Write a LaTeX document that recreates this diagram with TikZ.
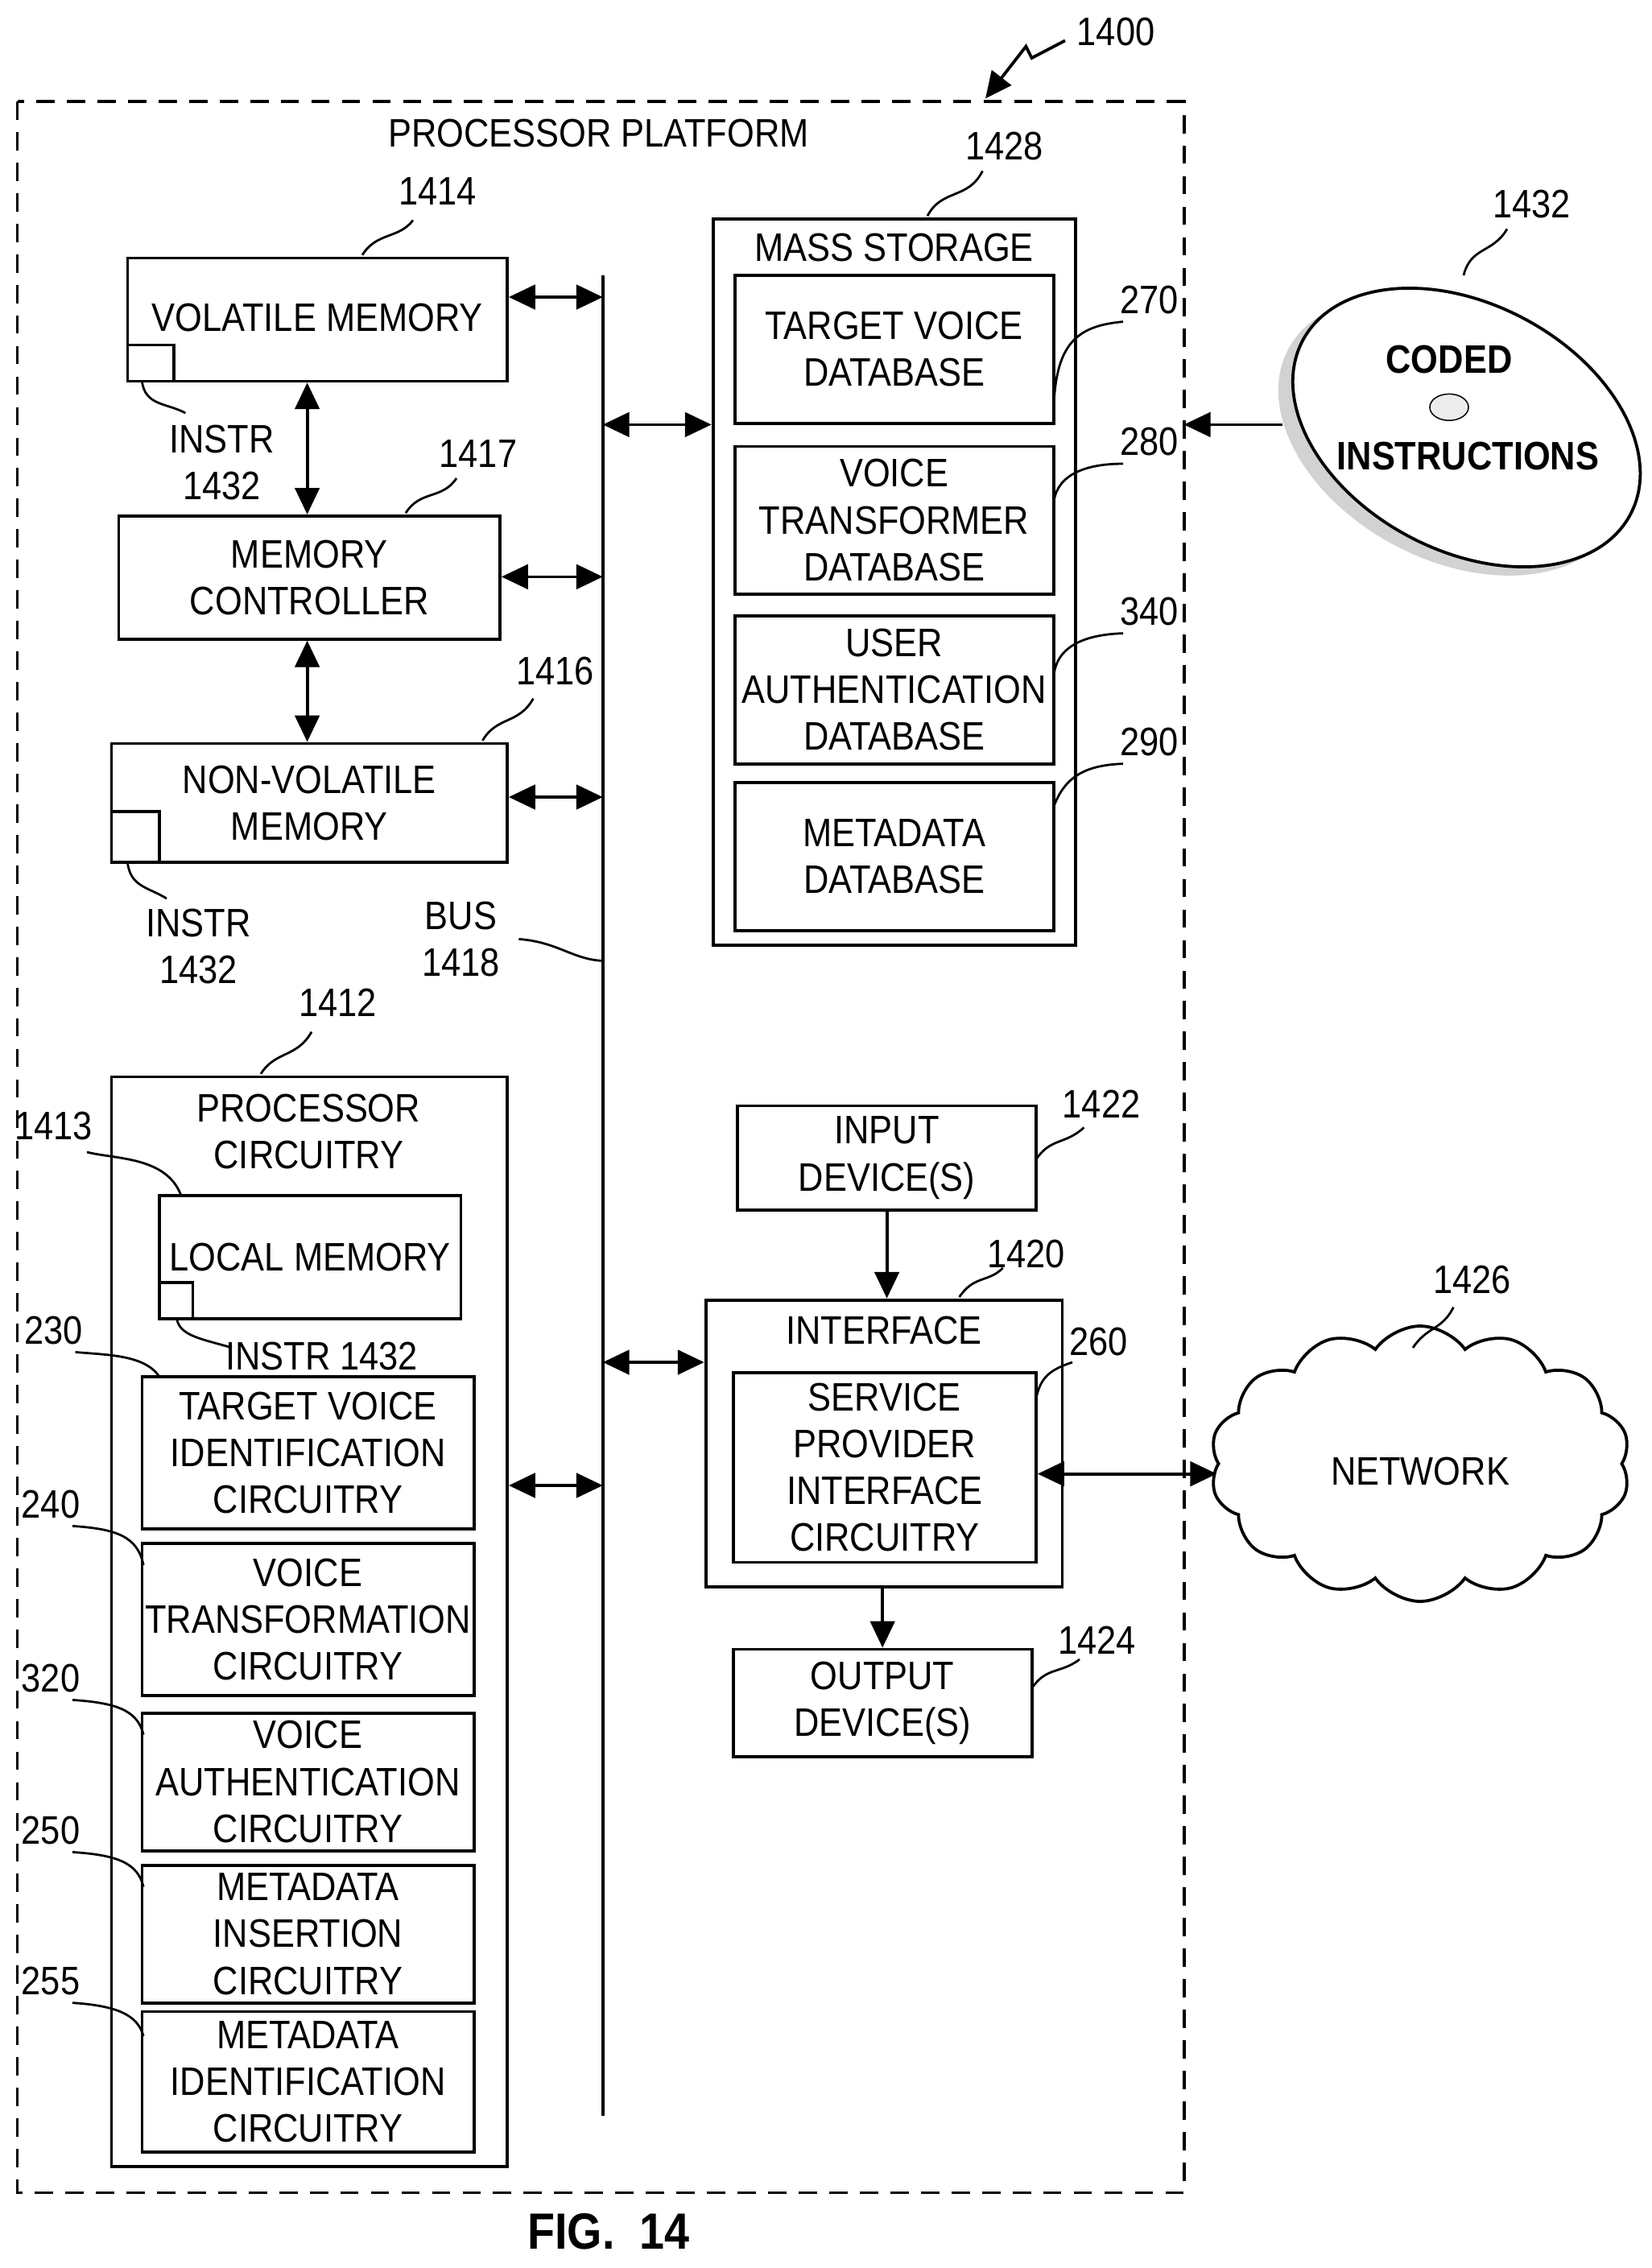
\documentclass[tikz,border=0pt]{standalone}
\usepackage{fontspec}
\setmainfont{Liberation Sans}[FakeStretch=0.88]
\usetikzlibrary{arrows.meta,shapes.symbols,shapes.geometric}
\begin{document}
\begin{tikzpicture}[x=0.05cm,y=-0.05cm,line width=3pt,
  every node/.style={font=\fontsize{39}{46}\selectfont},
  bx/.style={draw,inner sep=0pt,align=center},
  lb/.style={inner sep=2pt},
  arr/.style={{Triangle[length=26pt,width=24pt]}-{Triangle[length=26pt,width=24pt]}},
  sarr/.style={-{Triangle[length=26pt,width=24pt]}},
  ld/.style={line width=2.2pt}]
\useasboundingbox (0,0) rectangle (1140,1565);
\newcommand{\bx}[6]{\node[bx,minimum width={(#4-#2)*0.05cm},minimum height={(#5-#3)*0.05cm}] (#1) at ({(#2+#4)/2},{(#3+#5)/2}) {#6};}
% outer
\draw[dash pattern=on 18pt off 12pt] (12,70) rectangle (817,1513);
\node[lb] (pp) at (413,92) {PROCESSOR PLATFORM};
\node[lb] (l1400) at (770,22) {1400};
\coordinate (a1) at (735,28);
\coordinate (a2) at (680,68);
\draw[sarr] (a1) -- (712,40) -- (708,32) -- (a2);
% bus
\coordinate (bt) at (416,190); \coordinate (bb) at (416,1460);
\draw (bt) -- (bb);
\node[lb,align=center] (busl) at (318,648) {BUS\\1418};
\coordinate (bl) at (416,663);
\draw[ld] (358,648) .. controls (385,650) and (395,662) .. (bl);
% volatile
\bx{vm}{88}{178}{350}{263}{}
\node[lb] (vmt) at (219,219) {VOLATILE MEMORY};
\bx{vsq}{88}{238}{120}{263}{}
\node[lb] (l1414) at (302,132) {1414};
\draw[ld] (250,176) .. controls (260,160) and (275,165) .. (285,152);
\node[lb,align=center] (in1) at (153,319) {INSTR\\1432};
\draw[ld] (98,263) .. controls (100,280) and (115,278) .. (128,285);
% memory controller
\bx{mc}{82}{356}{345}{441}{MEMORY\\CONTROLLER}
\node[lb] (l1417) at (330,313) {1417};
\draw[ld] (280,354) .. controls (290,338) and (305,345) .. (315,330);
% non-volatile
\bx{nv}{77}{513}{350}{595}{NON-VOLATILE\\MEMORY}
\bx{nsq}{77}{560}{110}{595}{}
\node[lb] (l1416) at (383,463) {1416};
\draw[ld] (333,511) .. controls (343,494) and (358,500) .. (368,482);
\node[lb,align=center] (in2) at (137,653) {INSTR\\1432};
\draw[ld] (88,595) .. controls (90,612) and (102,612) .. (115,620);
\draw[arr] (vm.south -| 212,0) -- (mc.north -| 212,0);
\draw[arr] (mc.south -| 212,0) -- (nv.north -| 212,0);
\draw[arr] (vm.east |- 0,205) -- (416,205);
\draw[arr] (mc.east |- 0,398) -- (416,398);
\draw[arr] (nv.east |- 0,550) -- (416,550);
% processor circuitry
\bx{pc}{77}{743}{350}{1495}{}
\node[lb,align=center] (pct) at (213,781) {PROCESSOR\\CIRCUITRY};
\node[lb] (l1412) at (233,692) {1412};
\draw[ld] (180,741) .. controls (190,725) and (205,730) .. (215,712);
\bx{lm}{110}{825}{318}{910}{LOCAL MEMORY}
\bx{lsq}{110}{885}{133}{910}{}
\node[lb] (l1413) at (37,777) {1413};
\draw[ld] (60,795) .. controls (80,800) and (115,798) .. (125,825);
\node[lb] (in3) at (222,936) {INSTR 1432};
\draw[ld] (122,910) .. controls (124,922) and (140,924) .. (160,930);
\bx{tv}{98}{950}{327}{1055}{TARGET VOICE\\IDENTIFICATION\\CIRCUITRY}
\bx{vt}{98}{1065}{327}{1170}{VOICE\\TRANSFORMATION\\CIRCUITRY}
\bx{va}{98}{1182}{327}{1277}{VOICE\\AUTHENTICATION\\CIRCUITRY}
\bx{mi}{98}{1287}{327}{1382}{METADATA\\INSERTION\\CIRCUITRY}
\bx{md}{98}{1388}{327}{1485}{METADATA\\IDENTIFICATION\\CIRCUITRY}
\node[lb] (l230) at (37,918) {230};
\draw[ld] (52,933) .. controls (75,935) and (100,935) .. (110,950);
\node[lb] (l240) at (35,1038) {240};
\draw[ld] (50,1053) .. controls (80,1055) and (95,1060) .. (99,1080);
\node[lb] (l320) at (35,1158) {320};
\draw[ld] (50,1173) .. controls (80,1175) and (95,1180) .. (99,1197);
\node[lb] (l250) at (35,1263) {250};
\draw[ld] (50,1278) .. controls (80,1280) and (95,1285) .. (99,1302);
\node[lb] (l255) at (35,1367) {255};
\draw[ld] (50,1382) .. controls (80,1384) and (95,1390) .. (99,1405);
\draw[arr] (pc.east |- 0,1025) -- (416,1025);
% mass storage
\bx{ms}{492}{151}{742}{652}{}
\node[lb] (mst) at (617,171) {MASS STORAGE};
\node[lb] (l1428) at (693,101) {1428};
\draw[ld] (640,149) .. controls (650,130) and (668,138) .. (678,118);
\bx{d1}{507}{190}{727}{292}{TARGET VOICE\\DATABASE}
\bx{d2}{507}{308}{727}{410}{VOICE\\TRANSFORMER\\DATABASE}
\bx{d3}{507}{425}{727}{527}{USER\\AUTHENTICATION\\DATABASE}
\bx{d4}{507}{540}{727}{642}{METADATA\\DATABASE}
\node[lb] (l270) at (793,207) {270};
\draw[ld] (727,290) .. controls (727,240) and (740,225) .. (775,222);
\node[lb] (l280) at (793,305) {280};
\draw[ld] (727,350) .. controls (727,330) and (745,320) .. (775,320);
\node[lb] (l340) at (793,422) {340};
\draw[ld] (727,470) .. controls (727,448) and (745,438) .. (775,437);
\node[lb] (l290) at (793,512) {290};
\draw[ld] (727,557) .. controls (735,535) and (750,528) .. (775,527);
\draw[arr] (416,293) -- (ms.west |- 0,293);
% disk
\begin{scope}[shift={(1012,295)},rotate=-28]
\fill[gray!35] (-6,10) ellipse [x radius=128,y radius=85];
\draw[fill=white] (0,0) ellipse [x radius=128,y radius=85];
\end{scope}
\node[ellipse,draw,minimum width=38pt,minimum height=26pt,line width=1.2pt,fill=gray!15] (hole) at (1000,281) {};
\node[lb] (cd1) at (1000,248) {\textbf{CODED}};
\node[lb] (cd2) at (1013,315) {\textbf{INSTRUCTIONS}};
\coordinate (dk) at (885,293);
\coordinate (msr) at (817,293);
\draw[sarr] (dk) -- (msr);
\node[lb] (l1432) at (1057,141) {1432};
\draw[ld] (1010,190) .. controls (1015,170) and (1030,175) .. (1040,158);
% input
\bx{ind}{509}{763}{715}{835}{INPUT\\DEVICE(S)}
\node[lb] (l1422) at (760,762) {1422};
\draw[ld] (715,800) .. controls (725,785) and (735,790) .. (748,778);
% interface
\bx{ifc}{487}{897}{733}{1095}{}
\node[lb] (ift) at (610,918) {INTERFACE};
\bx{sp}{506}{947}{715}{1078}{SERVICE\\PROVIDER\\INTERFACE\\CIRCUITRY}
\node[lb] (l1420) at (708,865) {1420};
\draw[ld] (662,895) .. controls (672,880) and (682,885) .. (692,875);
\node[lb] (l260) at (758,926) {260};
\draw[ld] (715,965) .. controls (718,950) and (725,945) .. (740,940);
\draw[sarr] (ind.south -| 612,0) -- (ifc.north -| 612,0);
\draw[arr] (416,940) -- (ifc.west |- 0,940);
% output
\bx{out}{506}{1138}{712}{1212}{OUTPUT\\DEVICE(S)}
\node[lb] (l1424) at (757,1132) {1424};
\draw[ld] (712,1165) .. controls (722,1150) and (732,1155) .. (745,1145);
\draw[sarr] (ifc.south -| 609,0) -- (out.north -| 609,0);
% network
\node[cloud,draw,cloud puffs=14,cloud puff arc=110,aspect=1.6,minimum width=14.5cm,minimum height=9.5cm,inner sep=0pt] (net) at (980,1010) {};
\node[lb] (nett) at (980,1015) {NETWORK};
\node[lb] (l1426) at (1016,883) {1426};
\draw[ld] (975,930) .. controls (985,915) and (995,918) .. (1003,902);
\draw[arr] (sp.east |- 0,1017) -- (net.west |- 0,1017);
% fig
\node[lb,font=\fontsize{50}{60}\selectfont\bfseries] (fig) at (420,1540) {FIG.\ \ 14};
\end{tikzpicture}
\end{document}
